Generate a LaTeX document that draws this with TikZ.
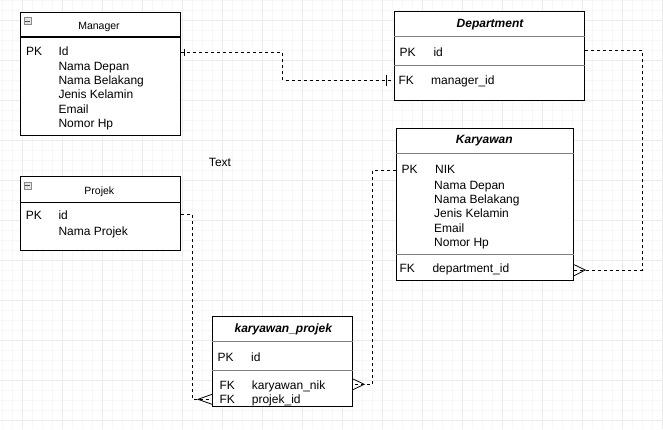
\documentclass[tikz,border=0pt]{standalone}
\usepackage{fontspec}
\setmainfont{Liberation Sans}
\begin{document}
\begin{tikzpicture}[x=1pt,y=-1pt,
  box/.style={draw=black,line width=1.2pt,fill=white,inner sep=0pt,anchor=north west},
  attr/.style={font=\fontsize{12}{14}\selectfont,anchor=base west,inner sep=0pt},
  ttl/.style={font=\fontsize{10.5}{12}\selectfont,anchor=base,inner sep=0pt},
  bttl/.style={font=\fontsize{12}{14}\selectfont\bfseries\itshape,anchor=base,inner sep=0pt},
  sepg/.style={draw=black!50,line width=1pt},
  sepb/.style={draw=black,line width=1.1pt},
  conn/.style={draw=black,line width=0.9pt,dash pattern=on 3pt off 3pt},
  crow/.style={draw=black,line width=0.8pt},
  tickmark/.style={draw=black,line width=0.9pt},
  icon/.style={draw=black!45,fill=black!10,line width=0.8pt,minimum size=7pt,inner sep=0pt}
]
\useasboundingbox (0,0) rectangle (663,429);
% grid
\begin{scope}
\clip (0,0) rectangle (663,429);
\fill[white] (0,0) rectangle (663,429);
\foreach \gx in {2,12,...,662} \draw[color=black!3,line width=0.8pt] (\gx,0) -- (\gx,429);
\foreach \gy in {0,10,...,429} \draw[color=black!3,line width=0.8pt] (0,\gy) -- (663,\gy);
\foreach \gx in {22,62,...,662} \draw[color=black!8,line width=0.9pt] (\gx,0) -- (\gx,429);
\foreach \gy in {20,60,...,429} \draw[color=black!8,line width=0.9pt] (0,\gy) -- (663,\gy);
\end{scope}

% Boxes
\node[box,minimum width=160pt,minimum height=123pt] (mgr) at (20,12) {};
\node[box,minimum width=160pt,minimum height=74pt] (prj) at (20,176) {};
\node[box,minimum width=190pt,minimum height=89pt] (dep) at (394,11) {};
\node[box,minimum width=177pt,minimum height=152pt] (kar) at (396,128) {};
\node[box,minimum width=140pt,minimum height=90pt] (kp) at (212,316) {};

% separators
\draw[sepb] ([yshift=-25pt]mgr.north west) -- ([yshift=-25pt]mgr.north east);
\draw[sepb] ([yshift=-26.7pt]prj.north west) -- ([yshift=-26.7pt]prj.north east);
\draw[sepg] ([yshift=-25pt]dep.north west) -- ([yshift=-25pt]dep.north east);
\draw[sepg] ([yshift=-54.3pt]dep.north west) -- ([yshift=-54.3pt]dep.north east);
\draw[sepg] ([yshift=-25.3pt]kar.north west) -- ([yshift=-25.3pt]kar.north east);
\draw[sepg] ([yshift=-126.3pt]kar.north west) -- ([yshift=-126.3pt]kar.north east);
\draw[sepg] ([yshift=-25.7pt]kp.north west) -- ([yshift=-25.7pt]kp.north east);
\draw[sepg] ([yshift=-54.7pt]kp.north west) -- ([yshift=-54.7pt]kp.north east);

% icons
\node[icon] (mgricon) at (27.5,21) {};
\draw[black!70,line width=0.8pt] ([xshift=1.8pt]mgricon.west) -- ([xshift=-1.8pt]mgricon.east);
\node[icon] (prjicon) at (27.5,185.5) {};
\draw[black!70,line width=0.8pt] ([xshift=1.8pt]prjicon.west) -- ([xshift=-1.8pt]prjicon.east);

% Titles
\node[ttl] (mgrt) at (99,29.8) {Manager};
\node[ttl] (prjt) at (99.3,194.8) {Projek};
\node[bttl] (dept) at (490,27) {Department};
\node[bttl] (kart) at (484.3,143.6) {Karyawan};
\node[bttl] (kpt) at (283.3,332) {karyawan\_projek};

% Manager attrs
\node[attr] (mgrpk) at (26,55) {PK};
\node[attr] (mgra1) at (58.3,55) {Id};
\node[attr] (mgra2) at (58.3,70) {Nama Depan};
\node[attr] (mgra3) at (58.3,84.3) {Nama Belakang};
\node[attr] (mgra4) at (58.3,98.5) {Jenis Kelamin};
\node[attr] (mgra5) at (58.3,113) {Email};
\node[attr] (mgra6) at (58.3,127) {Nomor Hp};

% Projek attrs
\node[attr] (prjpk) at (25.7,219.6) {PK};
\node[attr] (prja1) at (58.3,219.6) {id};
\node[attr] (prja2) at (58.3,235) {Nama Projek};

% Department attrs
\node[attr] (deppk) at (399.3,56) {PK};
\node[attr] (depa1) at (433.3,56) {id};
\node[attr] (depfk) at (398.3,84.3) {FK};
\node[attr] (depa2) at (431,84.3) {manager\_id};

% Karyawan attrs
\node[attr] (karpk) at (401.3,173.6) {PK};
\node[attr] (kara1) at (435,173.6) {NIK};
\node[attr] (kara2) at (434,189) {Nama Depan};
\node[attr] (kara3) at (434,203.3) {Nama Belakang};
\node[attr] (kara4) at (434,217.3) {Jenis Kelamin};
\node[attr] (kara5) at (434,232) {Email};
\node[attr] (kara6) at (434,246) {Nomor Hp};
\node[attr] (karfk) at (399.3,272) {FK};
\node[attr] (kara7) at (432.3,272) {department\_id};

% karyawan_projek attrs
\node[attr] (kppk) at (217.3,361) {PK};
\node[attr] (kpa1) at (251,361) {id};
\node[attr] (kpfk1) at (219.3,389.3) {FK};
\node[attr] (kpa2) at (251.7,389.3) {karyawan\_nik};
\node[attr] (kpfk2) at (219.3,403) {FK};
\node[attr] (kpa3) at (251.7,403) {projek\_id};

% free text
\node[font=\fontsize{12}{14}\selectfont,inner sep=0pt] (freetext) at (220,162) {Text};

% Connector Manager - Department
\coordinate (b1) at (282.7,52.3);
\coordinate (b1b) at (282.7,80);
\draw[conn] (mgr.east |- b1) -- (b1) -- (b1b) -- (dep.west |- b1b);
\draw[tickmark] ([xshift=3.3pt]mgr.east |- b1) ++(0,-3.5) -- ++(0,7);
\draw[tickmark] ([xshift=-7.3pt]dep.west |- b1b) ++(0,-5.5) -- ++(0,11);

% Connector Department - Karyawan
\coordinate (b2) at (642.5,50.7);
\coordinate (b2b) at (642.5,270);
\draw[conn] (dep.east |- b2) -- (b2) -- (b2b) -- (kar.east |- b2b);
\draw[crow] ([yshift=5.3pt]kar.east |- b2b) -- ([xshift=11pt]kar.east |- b2b) -- ([yshift=-5.7pt]kar.east |- b2b);

% Connector Karyawan - karyawan_projek
\coordinate (b3) at (372.3,170.5);
\coordinate (b3b) at (372.3,384.3);
\draw[conn] (kar.west |- b3) -- (b3) -- (b3b) -- (kp.east |- b3b);
\draw[crow] ([yshift=5.3pt]kp.east |- b3b) -- ([xshift=11pt]kp.east |- b3b) -- ([yshift=-5.3pt]kp.east |- b3b);

% Connector Projek - karyawan_projek
\coordinate (b4) at (192.3,214);
\coordinate (b4b) at (192.3,399.3);
\draw[conn] (prj.east |- b4) -- (b4) -- (b4b) -- (kp.west |- b4b);
\draw[crow] ([yshift=5pt]kp.west |- b4b) -- ([xshift=-14pt]kp.west |- b4b) -- ([yshift=-5pt]kp.west |- b4b);
\end{tikzpicture}
\end{document}
